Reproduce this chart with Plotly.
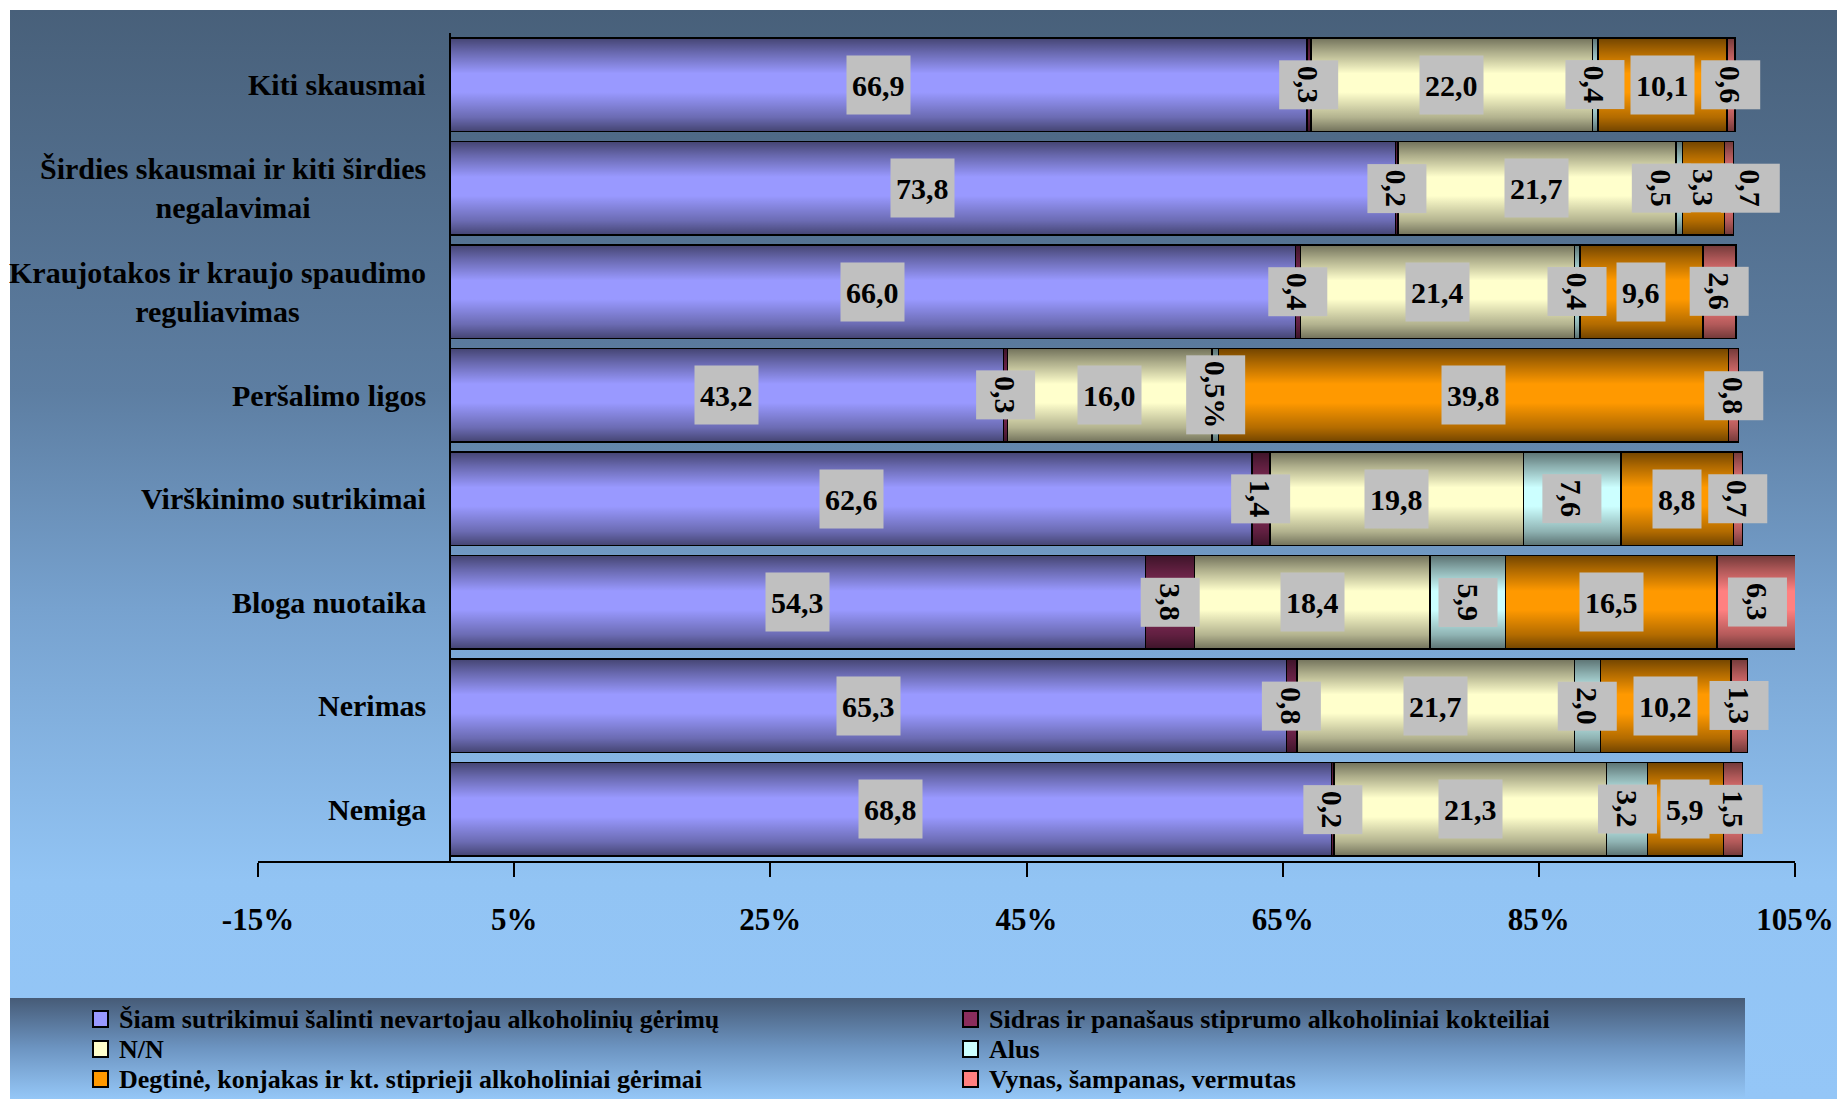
import base64
import plotly.graph_objects as go

# ---------------- data ----------------
CATEGORIES = [
    "Kiti skausmai",
    "Širdies skausmai ir kiti širdies<br>negalavimai",
    "Kraujotakos ir kraujo spaudimo<br>reguliavimas",
    "Peršalimo ligos",
    "Virškinimo sutrikimai",
    "Bloga nuotaika",
    "Nerimas",
    "Nemiga",
]
SERIES_NAMES = [
    "Šiam sutrikimui šalinti nevartojau alkoholinių gėrimų",
    "Sidras ir panašaus stiprumo alkoholiniai kokteiliai",
    "N/N",
    "Alus",
    "Degtinė, konjakas ir kt. stiprieji alkoholiniai gėrimai",
    "Vynas, šampanas, vermutas",
]
NEVARTOJAU = [66.9, 73.8, 66.0, 43.2, 62.6, 54.3, 65.3, 68.8]
SIDRAS = [0.3, 0.2, 0.4, 0.3, 1.4, 3.8, 0.8, 0.2]
NN = [22.0, 21.7, 21.4, 16.0, 19.8, 18.4, 21.7, 21.3]
ALUS = [0.4, 0.5, 0.4, 0.5, 7.6, 5.9, 2.0, 3.2]
DEGTINE = [10.1, 3.3, 9.6, 39.8, 8.8, 16.5, 10.2, 5.9]
VYNAS = [0.6, 0.7, 2.6, 0.8, 0.7, 6.3, 1.3, 1.5]
LABEL_OVERRIDES = {(3, 3): "0,5%"}  # (category index, series index) -> label text
TICK_VALUES = [-15, 5, 25, 45, 65, 85, 105]
TICK_LABELS = ["-15%", "5%", "25%", "45%", "65%", "85%", "105%"]

SERIES_VALUES = [NEVARTOJAU, SIDRAS, NN, ALUS, DEGTINE, VYNAS]
COLORS = ["#9999FF", "#8a2d5c", "#FFFFCC", "#CCFFFF", "#FF9900", "#FF8080"]
LABEL_XSHIFT = {(1, 3): -18, (1, 5): 21}  # pixel nudges of crowded labels

# ---------------- geometry ----------------
OFF = 8  # page body margin
W, H = 1845 - OFF, 1099 - OFF
L, R, T, B = 250, 50, 25, 238
PW, PH = W - L - R, H - T - B
FONT = "Liberation Serif"


def px2x(px):  # page pixel -> paper
    return (px - OFF - L) / PW


def py2y(py):
    return (H - B - (py - OFF)) / PH


def grad_uri(stops):
    s = "".join(
        f'<stop offset="{o}" stop-color="{c}" stop-opacity="{a}"/>' for o, c, a in stops
    )
    svg = (
        '<svg xmlns="http://www.w3.org/2000/svg" width="100" height="100" '
        'viewBox="0 0 100 100" preserveAspectRatio="none"><defs>'
        '<linearGradient id="g" x1="0" y1="0" x2="0" y2="1">' + s +
        '</linearGradient></defs><rect x="0" y="0" width="100" height="100" fill="url(#g)"/></svg>'
    )
    return "data:image/svg+xml;base64," + base64.b64encode(svg.encode()).decode()


BG = grad_uri([(0, "#48607a", 1), (0.35, "#5d7ea2", 1), (0.55, "#77a2cf", 1),
               (0.8, "#92c4f4", 1), (1, "#94c6f7", 1)])
LEG_BG = grad_uri([(0, "#465b77", 1), (0.5, "#6d95c2", 1), (1, "#95c7f7", 1)])
SHADE = grad_uri([(0, "#000000", 0.55), (0.15, "#000000", 0.32), (0.38, "#000000", 0.0),
                  (0.58, "#000000", 0.0), (0.85, "#000000", 0.3), (1, "#000000", 0.55)])

fig = go.Figure()
for name, vals, col in zip(SERIES_NAMES, SERIES_VALUES, COLORS):
    fig.add_trace(go.Bar(
        name=name, y=CATEGORIES, x=vals, orientation="h",
        marker=dict(color=col, line=dict(color="black", width=1.5)),
        showlegend=False, hoverinfo="x+y+name",
    ))

images = [
    dict(source=BG, xref="paper", yref="paper", x=px2x(10), y=py2y(10),
         sizex=(1845 - 10) / PW, sizey=(1099 - 10) / PH, xanchor="left", yanchor="top",
         sizing="stretch", layer="below"),
    dict(source=LEG_BG, xref="paper", yref="paper", x=px2x(10), y=py2y(998),
         sizex=(1745 - 10) / PW, sizey=(1099 - 998) / PH, xanchor="left", yanchor="top",
         sizing="stretch", layer="below"),
]

n = len(CATEGORIES)
annotations = []
for i, cat in enumerate(CATEGORIES):
    pos = n - 1 - i
    total = sum(v[i] for v in SERIES_VALUES)
    images.append(dict(source=SHADE, xref="x", yref="y", x=0, y=pos + 0.45,
                       sizex=total, sizey=0.9, xanchor="left", yanchor="top",
                       sizing="stretch", layer="above"))
    # category label
    annotations.append(dict(
        x=0, y=cat, xref="x", yref="y", xanchor="right", xshift=-22,
        text=cat, showarrow=False, align="center",
        font=dict(family=FONT, size=30, color="black", weight="bold"),
    ))
    cum = 0.0
    for s, vals in enumerate(SERIES_VALUES):
        v = vals[i]
        txt = LABEL_OVERRIDES.get((i, s), f"{v:.1f}".replace(".", ","))
        rot = 90 if (s in (1, 3, 5) or v < 4) else 0
        annotations.append(dict(
            x=cum + v / 2, y=cat, xref="x", yref="y", text=txt, showarrow=False,
            xshift=LABEL_XSHIFT.get((i, s), 0),
            textangle=rot, bgcolor="#C0C0C0", borderpad=5, height=48,
            font=dict(family=FONT, size=30, color="black", weight="bold"),
        ))
        cum += v

# manual legend
shapes = []
LEG_COLS = [(93, 118), (963, 988)]
LEG_ROWS = [1019, 1049, 1079]
for k, (name, col) in enumerate(zip(SERIES_NAMES, COLORS)):
    r, c = divmod(k, 2)
    mx, tx = LEG_COLS[c]
    cy = LEG_ROWS[r]
    shapes.append(dict(type="rect", xref="paper", yref="paper",
                       x0=px2x(mx), x1=px2x(mx + 15), y0=py2y(cy - 8), y1=py2y(cy + 8),
                       fillcolor=col, line=dict(color="black", width=2)))
    annotations.append(dict(
        x=px2x(tx), y=py2y(cy), xref="paper", yref="paper", xanchor="left",
        yanchor="middle", text=name, showarrow=False, borderpad=0,
        font=dict(family=FONT, size=26, color="black", weight="bold"),
    ))

fig.update_layout(
    width=W, height=H, barmode="stack", bargap=0.1,
    margin=dict(l=L, r=R, t=T, b=B, autoexpand=False),
    paper_bgcolor="white", plot_bgcolor="rgba(0,0,0,0)",
    images=images, annotations=annotations, shapes=shapes,
    showlegend=False,
    xaxis=dict(range=[-15, 105], tickvals=TICK_VALUES, ticktext=TICK_LABELS,
               showgrid=False, zeroline=False, showline=True, linecolor="black",
               linewidth=2, ticks="outside", ticklen=14, tickwidth=1.5,
               tickcolor="black", ticklabelstandoff=16,
               tickfont=dict(family=FONT, size=31, color="black", weight="bold")),
    yaxis=dict(type="category", categoryorder="array", categoryarray=CATEGORIES[::-1],
               range=[-0.5, n - 0.5], showgrid=False, zeroline=False,
               showline=True, linecolor="black", linewidth=2,
               anchor="free", position=15 / 120, showticklabels=False, ticks=""),
)

fig.write_html("out.html")
